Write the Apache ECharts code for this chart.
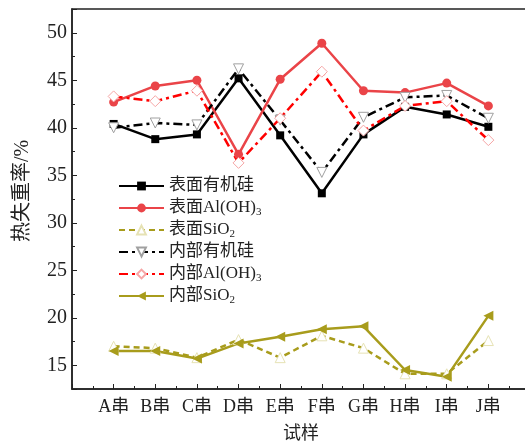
<!DOCTYPE html>
<html>
<head>
<meta charset="utf-8">
<script src="https://cdn.jsdelivr.net/npm/echarts@6/dist/echarts.min.js"></script>
<style>
  html, body { margin: 0; padding: 0; background: #fff; }
  #chart { width: 525px; height: 445px; }
</style>
</head>
<body>
<div id="chart"></div>
<script>
// Sample strings A–J and their tick labels
const samples = ['A', 'B', 'C', 'D', 'E', 'F', 'G', 'H', 'I', 'J'];
const xTickLabels = ['A串', 'B串', 'C串', 'D串', 'E串', 'F串', 'G串', 'H串', 'I串', 'J串'];
const yTickLabels = [15, 20, 25, 30, 35, 40, 45, 50];

// Thermal weight loss (%) per sample
const surfaceSilicone = [40.4, 38.8, 39.3, 45.2, 39.2, 33.1, 39.3, 42.2, 41.4, 40.1];
const surfaceAlOH3    = [42.7, 44.4, 45.0, 37.2, 45.1, 48.9, 43.9, 43.7, 44.7, 42.3];
const surfaceSiO2     = [17.0, 16.8, 15.8, 17.7, 15.8, 18.1, 16.8, 14.1, 14.1, 17.6];
const innerSilicone   = [40.0, 40.5, 40.3, 46.2, 40.8, 35.3, 41.1, 43.2, 43.4, 41.0];
const innerAlOH3      = [43.3, 42.8, 43.9, 36.3, 41.0, 45.9, 39.7, 42.3, 42.8, 38.7];
const innerSiO2       = [16.5, 16.5, 15.7, 17.3, 18.0, 18.8, 19.1, 14.5, 13.8, 20.2];

const FONT = '"Liberation Serif", "Noto Sans CJK SC", serif';
const OLIVE = '#a89c1c';

const toPoints = arr => arr.map((v, i) => [i + 1, v]);

const series = [
  {
    name: '表面有机硅', data: toPoints(surfaceSilicone),
    symbol: 'rect', symbolSize: 8,
    lineStyle: { color: '#000', width: 2.5, type: 'solid' },
    itemStyle: { color: '#000' }
  },
  {
    name: '表面Al(OH)3', data: toPoints(surfaceAlOH3),
    symbol: 'circle', symbolSize: 9,
    lineStyle: { color: '#ea4448', width: 2.5, type: 'solid' },
    itemStyle: { color: '#ea4448' }
  },
  {
    name: '表面SiO2', data: toPoints(surfaceSiO2),
    symbol: 'triangle', symbolSize: 10,
    lineStyle: { color: OLIVE, width: 2.5, type: [6, 4] },
    itemStyle: { color: '#fff', borderColor: '#e6e2b4', borderWidth: 1 }
  },
  {
    name: '内部有机硅', data: toPoints(innerSilicone),
    symbol: 'triangle', symbolSize: 10, symbolRotate: 180,
    lineStyle: { color: '#000', width: 2.5, type: [9, 4, 3, 4] },
    itemStyle: { color: '#fff', borderColor: '#a0a0a0', borderWidth: 1 }
  },
  {
    name: '内部Al(OH)3', data: toPoints(innerAlOH3),
    symbol: 'diamond', symbolSize: 11,
    lineStyle: { color: '#ff0000', width: 2.5, type: [9, 4, 3, 4] },
    itemStyle: { color: '#fff', borderColor: '#f6a6a6', borderWidth: 1 }
  },
  {
    name: '内部SiO2', data: toPoints(innerSiO2),
    symbol: 'triangle', symbolSize: 10, symbolRotate: 90,
    lineStyle: { color: OLIVE, width: 2.5, type: 'solid' },
    itemStyle: { color: OLIVE }
  }
].map(s => Object.assign({ type: 'line', showAllSymbol: true, animation: false }, s));

const legendText = name => name
  .replace('(OH)3', '(OH){sub|3}')
  .replace('SiO2', 'SiO{sub|2}');

const chart = echarts.init(document.getElementById('chart'), null, { renderer: 'canvas' });
chart.setOption({
  backgroundColor: '#fff',
  animation: false,
  textStyle: { fontFamily: FONT },
  grid: {
    left: 72, right: -5, top: 9, bottom: 56,
    outerBoundsMode: 'none', containLabel: false,
    show: true, borderColor: '#222', borderWidth: 1.5, backgroundColor: 'transparent'
  },
  legend: {
    orient: 'vertical', left: 118, top: 176, padding: 0,
    itemWidth: 45, itemHeight: 11, itemGap: 2,
    data: series.map(s => s.name),
    formatter: legendText,
    textStyle: {
      fontFamily: FONT, fontSize: 17, color: '#222', lineHeight: 20,
      rich: { sub: { fontFamily: FONT, fontSize: 11, lineHeight: 12, verticalAlign: 'bottom', color: '#222' } }
    }
  },
  xAxis: {
    type: 'value', min: 0, max: 11, interval: 1,
    name: '试样', nameLocation: 'middle', nameGap: 36,
    nameTextStyle: { fontFamily: FONT, fontSize: 18, color: '#222' },
    axisLine: { show: true, lineStyle: { color: '#222', width: 1.5 } },
    axisTick: { show: true, inside: true, length: 5, lineStyle: { color: '#222', width: 1 } },
    minorTick: { show: true, splitNumber: 2, length: 3, lineStyle: { color: '#222', width: 1 } },
    splitLine: { show: false },
    axisLabel: {
      margin: 9, fontFamily: FONT, fontSize: 18, color: '#222',
      formatter: v => (v >= 1 && v <= xTickLabels.length) ? xTickLabels[v - 1] : ''
    }
  },
  yAxis: {
    type: 'value', min: 12.5, max: 52.5, splitNumber: 8,
    name: '热失重率/%', nameLocation: 'middle', nameGap: 39,
    nameTextStyle: { fontFamily: FONT, fontSize: 20, color: '#222', padding: [0, 0, 0, 16] },
    axisLine: { show: true, lineStyle: { color: '#222', width: 1.5 } },
    axisTick: { show: true, inside: true, length: 5, lineStyle: { color: '#222', width: 1 } },
    minorTick: { show: true, splitNumber: 2, length: 3, lineStyle: { color: '#222', width: 1 } },
    splitLine: { show: false },
    axisLabel: {
      margin: 5, fontFamily: FONT, fontSize: 20, color: '#222',
      showMinLabel: false, showMaxLabel: false,
      formatter: v => yTickLabels.includes(v) ? String(v) : ''
    }
  },
  series: series
});
</script>
</body>
</html>
